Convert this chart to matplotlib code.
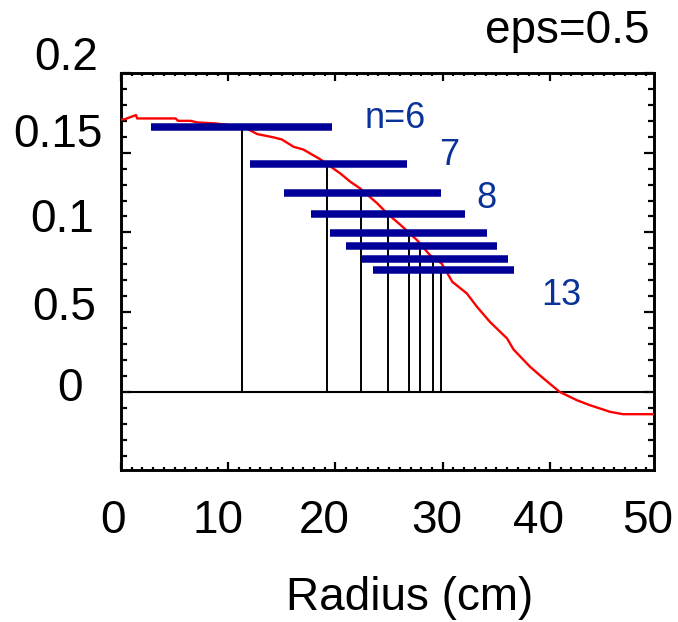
import matplotlib
import matplotlib.pyplot as plt
from matplotlib.ticker import MultipleLocator
matplotlib.use('Agg')

plt.rcParams['font.family'] = ['Liberation Sans', 'DejaVu Sans']

# red profile curve (radius in cm, value)
radius = [0.0, 0.3, 1.4, 1.5, 5.1, 5.3, 6.5, 7.1, 8.8, 11.45, 12.7, 14.25,
          15.0, 16.1, 17.0, 18.6, 20.45, 21.4, 22.3, 23.9, 24.8, 26.0, 27.6,
          28.8, 29.9, 30.9, 32.25, 33.2, 34.4, 36.0, 36.6, 38.15, 39.4, 40.9,
          42.5, 43.7, 45.6, 46.8, 50.0]
profile = [0.1709, 0.1709, 0.1736, 0.1715, 0.1715, 0.170, 0.170, 0.169,
           0.1684, 0.1662, 0.1617, 0.1596, 0.1583, 0.1537, 0.152, 0.1458,
           0.137, 0.1317, 0.1276, 0.1182, 0.112, 0.1051, 0.0952, 0.0858,
           0.0805, 0.069, 0.0617, 0.0533, 0.0439, 0.0335, 0.0266, 0.0157,
           0.0084, 0.0, -0.0052, -0.0083, -0.0125, -0.014, -0.014]

# blue bars n=6..13 and the black lines below them
bar_left = [2.83, 12.0, 15.24, 17.73, 19.46, 21.0, 22.5, 23.46]
bar_right = [19.68, 26.67, 29.86, 32.1, 34.1, 35.1, 36.07, 36.6]
bar_y = [0.1662, 0.143, 0.1247, 0.1113, 0.0996, 0.0912, 0.0831, 0.0763]
line_x = [11.27, 19.2, 22.4, 24.9, 26.9, 27.9, 29.1, 29.86]

n_labels = ['n=6', '7', '8', '13']
x_tick_labels = ['0', '10', '20', '30', '40', '50']
y_tick_labels = ['0.2', '0.15', '0.1', '0.5', '0']

W, H = 678, 622
fig = plt.figure(figsize=(W / 100, H / 100), dpi=100)
ax = fig.add_axes([121 / W, 1 - 470 / H, (654 - 121) / W, (470 - 73) / H])


def px_text(x, y, s, **kw):
    """Put text at a pixel position of the figure."""
    fig.text(x / W, 1 - y / H, s, **kw)


# zero line, curve, bars
ax.axhline(0, color='black', lw=1.5, zorder=1)
ax.plot(radius, profile, color='red', lw=1.7, zorder=3)
for xl, xr, y, xv in zip(bar_left, bar_right, bar_y, line_x):
    ax.plot([xv, xv], [0, y], color='black', lw=1.4, zorder=2)
    ax.plot([xl, xr], [y, y], color='#000099', lw=5.4,
            solid_capstyle='butt', zorder=4)

ax.set_xlim(0, 49.7)
ax.set_ylim(-0.049, 0.2)

# ticks, labels drawn separately below
ax.xaxis.set_major_locator(MultipleLocator(10))
ax.xaxis.set_minor_locator(MultipleLocator(1))
ax.yaxis.set_major_locator(MultipleLocator(0.05))
ax.yaxis.set_minor_locator(MultipleLocator(0.01))
ax.tick_params(which='both', direction='in', top=True, right=True,
               labelbottom=False, labelleft=False, width=1.6)
ax.tick_params(axis='x', which='major', length=5.8)
ax.tick_params(axis='x', which='minor', length=2.4)
ax.tick_params(axis='y', which='major', length=7.2)
ax.tick_params(axis='y', which='minor', length=4.0)
for sp in ax.spines.values():
    sp.set_linewidth(2.1)

# tick labels as in the original figure
for s, x in zip(x_tick_labels, [113, 218, 324, 437, 538, 648]):
    px_text(x, 533, s, ha='center', va='baseline', fontsize=33)
for s, (x, y) in zip(y_tick_labels, [(66.5, 70), (58, 147), (62, 232),
                                      (64, 320), (70, 401)]):
    px_text(x, y, s, ha='center', va='baseline', fontsize=33)

px_text(410, 610, 'Radius (cm)', ha='center', va='baseline', fontsize=33)
px_text(567, 43, 'eps=0.5', ha='center', va='baseline', fontsize=33)

for s, (x, y) in zip(n_labels, [(395, 128), (449, 165), (486, 208), (561, 305)]):
    px_text(x, y, s, ha='center', va='baseline', fontsize=26, color='#0a3399')

plt.savefig('out.png', dpi=100)
